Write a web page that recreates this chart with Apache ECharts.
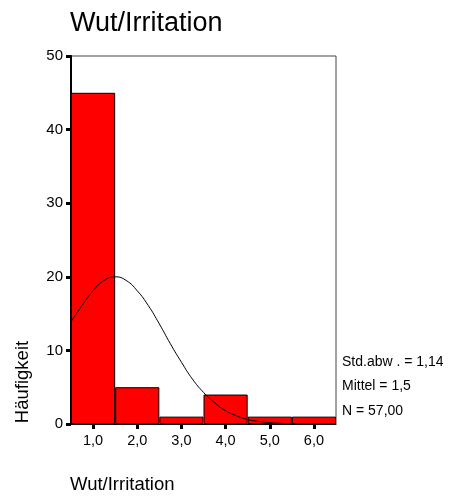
<!DOCTYPE html>
<html>
<head>
<meta charset="utf-8">
<script src="https://cdn.jsdelivr.net/npm/echarts@6/dist/echarts.min.js"></script>
<style>
  html, body { margin: 0; padding: 0; background: #fff; }
  #chart { width: 451px; height: 500px; }
</style>
</head>
<body>
<div id="chart"></div>
<script>
// Histogram bins and frequencies
const categories = ['1,0', '2,0', '3,0', '4,0', '5,0', '6,0'];
const counts = [45, 5, 1, 4, 1, 1];

// Fitted normal curve (Mittel 1,5, Std.abw 1,14, N 57), sampled positions and heights
const curveX = [0.5, 0.75, 1.0, 1.25, 1.5, 1.75, 2.0, 2.25, 2.5, 2.75, 3.0, 3.25, 3.5, 3.75, 4.0, 4.25, 4.5, 4.75, 5.0, 5.25, 5.5, 6.0, 6.5];
const curveY = [13.9, 16.1, 18.1, 19.5, 20.0, 19.5, 18.1, 16.1, 13.6, 10.9, 8.4, 6.1, 4.3, 2.9, 1.8, 1.1, 0.6, 0.35, 0.18, 0.09, 0.04, 0.01, 0.0];

const yTicks = [0, 10, 20, 30, 40, 50];
const statLines = ['Std.abw . = 1,14', 'Mittel = 1,5', 'N = 57,00'];

const font = 'Liberation Sans, Arial, sans-serif';
const chart = echarts.init(document.getElementById('chart'), null, { renderer: 'canvas' });

const statGraphics = statLines.map((t, i) => ({
  type: 'text',
  left: 342,
  top: 355 + i * 24.4,
  style: { text: t, font: '14px ' + font, fill: '#000' }
}));

chart.setOption({
  animation: false,
  backgroundColor: '#fff',
  title: {
    text: 'Wut/Irritation',
    left: 70,
    top: 10,
    padding: 0,
    textStyle: { fontFamily: font, fontSize: 27, fontWeight: 'normal', color: '#000' }
  },
  grid: {
    left: 71, right: 115, top: 56, bottom: 76,
    show: true, borderColor: '#444', borderWidth: 1, backgroundColor: 'transparent'
  },
  xAxis: [
    {
      type: 'category',
      data: categories,
      boundaryGap: true,
      axisLine: { show: true, lineStyle: { color: '#000', width: 1 } },
      axisTick: { show: true, alignWithLabel: true, length: 5, lineStyle: { color: '#000', width: 3 } },
      axisLabel: { fontFamily: font, fontSize: 14.5, color: '#000', margin: 9 },
      splitLine: { show: false }
    },
    {
      type: 'value',
      min: 0.5, max: 6.5,
      show: false
    }
  ],
  yAxis: {
    type: 'value',
    min: 0, max: 50, interval: 10,
    axisLine: { show: true, lineStyle: { color: '#000', width: 2 } },
    axisTick: { show: true, length: 5, lineStyle: { color: '#000', width: 3 } },
    axisLabel: { fontFamily: font, fontSize: 15, color: '#000', margin: 8,
      formatter: v => yTicks.includes(v) ? String(v) : '' },
    splitLine: { show: false }
  },
  series: [
    {
      type: 'bar',
      data: counts,
      xAxisIndex: 0,
      barWidth: '100%',
      itemStyle: { color: '#ff0000', borderColor: '#000', borderWidth: 1 },
      z: 2
    },
    {
      type: 'line',
      xAxisIndex: 1,
      data: curveX.map((x, i) => [x, curveY[i]]),
      smooth: true,
      showSymbol: false,
      lineStyle: { color: '#000', width: 1 },
      z: 3
    }
  ],
  graphic: [
    {
      type: 'text',
      x: 23, y: 382,
      rotation: Math.PI / 2,
      style: { text: 'Häufigkeit', font: '18.5px ' + font, fill: '#000', align: 'center', verticalAlign: 'middle' }
    },
    {
      type: 'text',
      left: 70, top: 475,
      style: { text: 'Wut/Irritation', font: '18.5px ' + font, fill: '#000' }
    }
  ].concat(statGraphics)
});
</script>
</body>
</html>
